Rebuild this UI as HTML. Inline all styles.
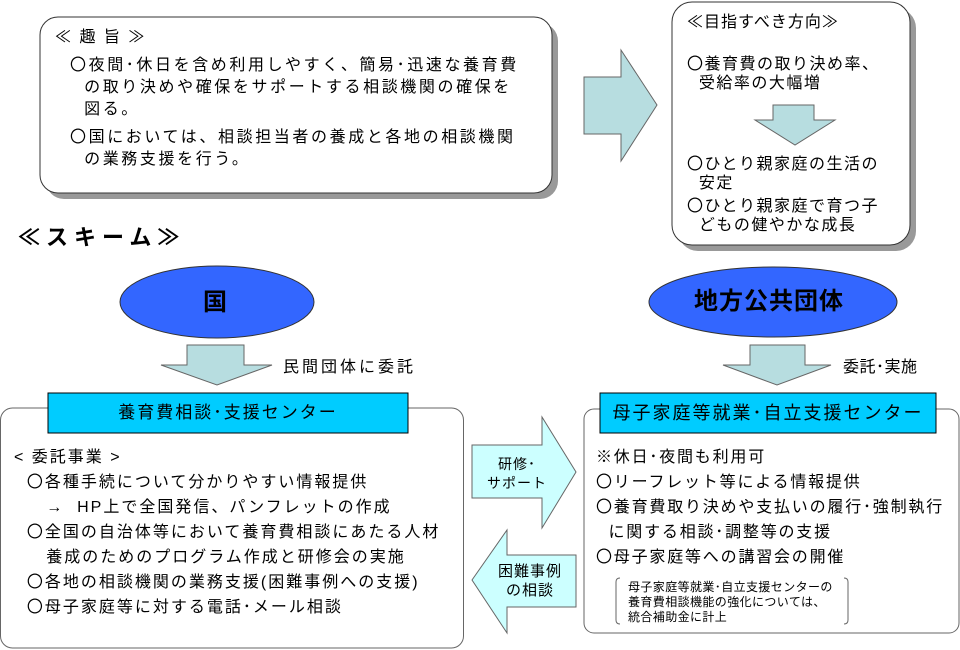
<!DOCTYPE html>
<html><head><meta charset="utf-8"><style>
body{margin:0;width:960px;height:650px;background:#fff;position:relative;overflow:hidden;font-family:"Liberation Sans","Noto Sans CJK JP",sans-serif;color:#000}
.t{position:absolute;white-space:nowrap;font-size:16px;line-height:20px}
</style></head><body>
<svg width="960" height="650" style="position:absolute;left:0;top:0">
<rect x="46" y="23" width="512" height="176" rx="18" fill="#999"/>
<rect x="40" y="17" width="512" height="176" rx="18" fill="#fff" stroke="#333" stroke-width="1"/>
<rect x="678" y="8" width="238" height="243" rx="20" fill="#999"/>
<rect x="672" y="2" width="238" height="243" rx="20" fill="#fff" stroke="#333" stroke-width="1"/>
<polygon points="584,77 621,77 621,50 657,105 621,161 621,134 584,134" fill="#b7dde0" stroke="#666"/>
<polygon points="773,105 814,105 814,120 835,120 795,145 755,120 773,120" fill="#b7dde0" stroke="#666"/>
<ellipse cx="217" cy="302" rx="97" ry="36" fill="#3366ff" stroke="#333"/>
<ellipse cx="773" cy="302" rx="124" ry="35" fill="#3366ff" stroke="#333"/>
<polygon points="187,345 244,345 244,365 272,365 217,385 161,365 187,365" fill="#b7dde0" stroke="#666"/>
<polygon points="750,345 805,345 805,365 831,365 777,385 723,365 750,365" fill="#b7dde0" stroke="#666"/>
<rect x="0.5" y="408" width="463" height="240" rx="12" fill="#fff" stroke="#666"/>
<rect x="584" y="409" width="375" height="224" rx="10" fill="#fff" stroke="#666"/>
<rect x="48" y="393" width="360" height="40" fill="#00ccff" stroke="#000"/>
<rect x="600" y="393" width="336" height="40" fill="#00ccff" stroke="#000"/>
<polygon points="472,445 542,445 542,417 576,472 542,528 542,498 472,498" fill="#ccffff" stroke="#666"/>
<polygon points="472,580 507,530 507,555 576,555 576,607 507,607 507,633" fill="#ccffff" stroke="#666"/>
<path d="M620,578 q-4,0 -4,4 v38 q0,4 4,4 M844,578 q4,0 4,4 v38 q0,4 -4,4" fill="none" stroke="#666"/>
</svg>
<div class="t" style="left:55px;top:28px;letter-spacing:2px">≪ 趣 旨 ≫</div>
<div class="t" style="left:70px;top:55px;line-height:22px;letter-spacing:2.6px">〇夜間･休日を含め利用しやすく、簡易･迅速な養育費<br>&nbsp;&nbsp;の取り決めや確保をサポートする相談機関の確保を<br>&nbsp;&nbsp;図る。</div>
<div class="t" style="left:70px;top:127px;line-height:22px;letter-spacing:2.6px">〇国においては、相談担当者の養成と各地の相談機関<br>&nbsp;&nbsp;の業務支援を行う。</div>
<div class="t" style="left:687px;top:13px;letter-spacing:1px">≪目指すべき方向≫</div>
<div class="t" style="left:687px;top:55px;line-height:19px;letter-spacing:1.5px">〇養育費の取り決め率、<br>&nbsp;&nbsp;受給率の大幅増</div>
<div class="t" style="left:687px;top:155px;line-height:19px;letter-spacing:1.5px">〇ひとり親家庭の生活の<br>&nbsp;&nbsp;安定</div>
<div class="t" style="left:687px;top:197px;line-height:19px;letter-spacing:1.5px">〇ひとり親家庭で育つ子<br>&nbsp;&nbsp;どもの健やかな成長</div>
<div class="t" style="left:18px;top:224px;font-size:22px;line-height:28px;font-weight:bold;letter-spacing:6px">≪スキーム≫</div>
<div class="t" style="left:203px;top:289px;font-size:24px;line-height:28px;font-weight:bold">国</div>
<div class="t" style="left:694px;top:288px;font-size:24px;line-height:28px;font-weight:bold;letter-spacing:1px">地方公共団体</div>
<div class="t" style="left:283px;top:358px;font-size:16px;letter-spacing:3px">民間団体に委託</div>
<div class="t" style="left:843px;top:358px;font-size:16px;letter-spacing:0.5px">委託･実施</div>
<div class="t" style="left:48px;top:403px;width:360px;text-align:center;font-size:17px;letter-spacing:2px">養育費相談･支援センター</div>
<div class="t" style="left:600px;top:403px;width:336px;text-align:center;font-size:18px;letter-spacing:2px">母子家庭等就業･自立支援センター</div>
<div class="t" style="left:14px;top:445px;line-height:25px;letter-spacing:2px">&lt; 委託事業 &gt;<br>&nbsp;&nbsp;〇各種手続について分かりやすい情報提供<br>&nbsp;&nbsp;&nbsp;&nbsp;&nbsp;→&nbsp; HP上で全国発信、パンフレットの作成<br>&nbsp;&nbsp;〇全国の自治体等において養育費相談にあたる人材<br>&nbsp;&nbsp;&nbsp;&nbsp;&nbsp;養成のためのプログラム作成と研修会の実施<br>&nbsp;&nbsp;〇各地の相談機関の業務支援(困難事例への支援)<br>&nbsp;&nbsp;〇母子家庭等に対する電話･メール相談</div>
<div class="t" style="left:596px;top:445px;line-height:25px;letter-spacing:1.8px">※休日･夜間も利用可<br>〇リーフレット等による情報提供<br>〇養育費取り決めや支払いの履行･強制執行<br>&nbsp;&nbsp;に関する相談･調整等の支援<br>〇母子家庭等への講習会の開催</div>
<div class="t" style="left:628px;top:580px;font-size:12px;line-height:15px;letter-spacing:0.4px">母子家庭等就業･自立支援センターの<br>養育費相談機能の強化については、<br>統合補助金に計上</div>
<div class="t" style="left:486px;top:455px;font-size:14px;line-height:19px;text-align:center;width:62px;letter-spacing:1px">研修･<br>サポート</div>
<div class="t" style="left:495px;top:562px;font-size:15px;line-height:19px;text-align:center;width:70px;letter-spacing:1px">困難事例<br>の相談</div>
</body></html>
